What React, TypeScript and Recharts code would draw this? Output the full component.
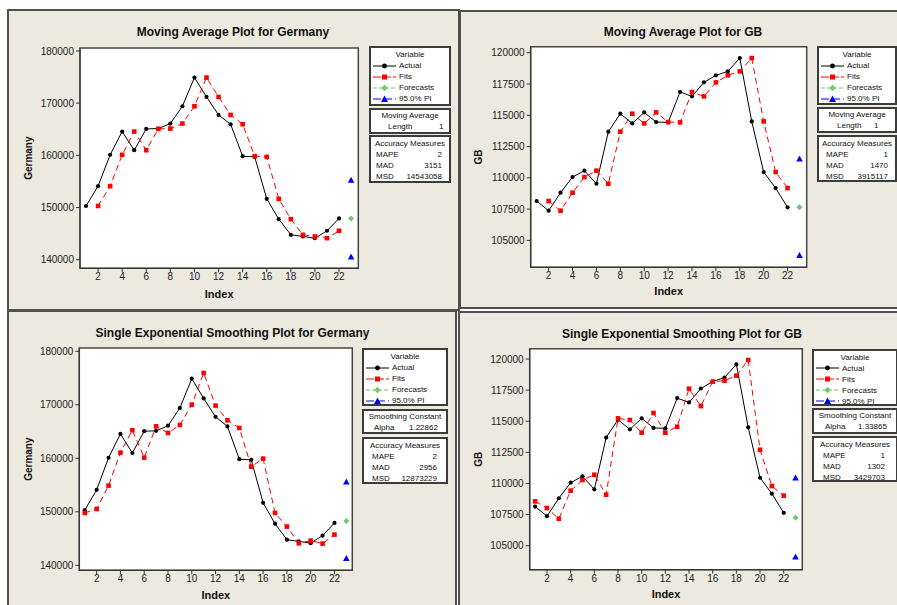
import React from 'react';
import { LineChart, Line, XAxis, YAxis, CartesianGrid, ReferenceArea } from 'recharts';

// Time index (22 observations + 1 forecast period)
const indexes = [1, 2, 3, 4, 5, 6, 7, 8, 9, 10, 11, 12, 13, 14, 15, 16, 17, 18, 19, 20, 21, 22, 23];
const xTicks = [2, 4, 6, 8, 10, 12, 14, 16, 18, 20, 22];
const germanyTicks = [140000, 150000, 160000, 170000, 180000];
const gbTicks = [105000, 107500, 110000, 112500, 115000, 117500, 120000];

// Germany
const germanyActual = [150300, 154100, 160100, 164560, 160990, 165070, 165130, 166090, 169410, 174900, 171200,
    167750, 165960, 159840, 159710, 151670, 147780, 144780, 144460, 144140, 145550, 147910];
const germanyMaFits = [null, 150300, 154100, 160100, 164560, 160990, 165070, 165130, 166090, 169410, 174900,
    171200, 167750, 165960, 159840, 159710, 151670, 147780, 144780, 144460, 144140, 145550];
const germanySesFits = [149780, 150530, 154890, 161060, 165235, 160130, 165980, 164740, 166230, 170030, 175950,
    169850, 167100, 165670, 158440, 159940, 149780, 147230, 144115, 144610, 144050, 145735];
const germanyMaForecast = [147910, 140510, 155250]; // forecast, lower, upper
const germanySesForecast = [148290, 141250, 155580];

// GB
const gbActual = [108145, 107373, 108811, 110063, 110570, 109530, 113690, 115125, 114350, 115230, 114460,
    114430, 116860, 116510, 117630, 118190, 118510, 119570, 114510, 110460, 109180, 107640];
const gbMaFits = [null, 108145, 107373, 108811, 110063, 110570, 109530, 113690, 115125, 114350, 115230,
    114460, 114430, 116860, 116510, 117630, 118190, 118510, 119570, 114510, 110460, 109180];
const gbSesFits = [108560, 108025, 107170, 109420, 110275, 110700, 109100, 115230, 115100, 114080, 115660,
    114080, 114560, 117615, 116220, 118180, 118260, 118660, 119920, 112710, 109790, 109020];
const gbMaForecast = [107640, 103800, 111500];
const gbSesForecast = [107250, 104090, 110440];

const FONT = '"Liberation Sans", Arial, sans-serif';
const PANEL_BG = '#ECE9DF';

const buildRows = (actual: number[], fits: (number | null)[], fc: number[]) =>
    indexes.map((idx, i) => ({
        idx,
        actual: actual[i] ?? null,
        fits: fits[i] ?? null,
        forecast: idx === 23 ? fc[0] : null,
        lower: idx === 23 ? fc[1] : null,
        upper: idx === 23 ? fc[2] : null,
    }));

// ---- marker shapes ----
const empty = (p: any) => p.cx == null || p.cy == null || p.value == null;

const circleDot = (p: any) =>
    empty(p) ? <g key={`c-${p.index}`} /> : <circle key={`c-${p.index}`} cx={p.cx} cy={p.cy} r={2.1} fill="#000" />;

const squareDot = (p: any) =>
    empty(p) ? <g key={`s-${p.index}`} /> : (
        <rect key={`s-${p.index}`} x={p.cx - 2.3} y={p.cy - 2.3} width={4.6} height={4.6} fill="#FF0000" />
    );

const diamondDot = (p: any) =>
    empty(p) ? <g key={`d-${p.index}`} /> : (
        <polygon key={`d-${p.index}`} fill="#6CCB6C"
            points={`${p.cx},${p.cy - 3} ${p.cx + 3},${p.cy} ${p.cx},${p.cy + 3} ${p.cx - 3},${p.cy}`} />
    );

const triangleDot = (p: any) =>
    empty(p) ? <g key={`t-${p.index}`} /> : (
        <polygon key={`t-${p.index}`} fill="#0000FF"
            points={`${p.cx},${p.cy - 3.5} ${p.cx + 3.3},${p.cy + 2.5} ${p.cx - 3.3},${p.cy + 2.5}`} />
    );

// ---- legend sample symbols ----
const Sample = ({ kind }: { kind: string }) => {
    const w = 23;
    const s: React.CSSProperties = { display: 'block' };
    if (kind === 'actual') return (
        <svg style={s} width={w} height={8}><line x1={0} y1={4} x2={w} y2={4} stroke="#000" /><circle cx={11.5} cy={4} r={2.4} fill="#000" /></svg>
    );
    if (kind === 'fits') return (
        <svg style={s} width={w} height={8}><line x1={0} y1={4} x2={w} y2={4} stroke="#FF0000" strokeDasharray="8 2" /><rect x={9} y={1.5} width={5} height={5} fill="#FF0000" /></svg>
    );
    if (kind === 'forecast') return (
        <svg style={s} width={w} height={8}><line x1={0} y1={4} x2={w} y2={4} stroke="#6CCB6C" strokeDasharray="4 2" /><polygon points="11.5,0.8 14.7,4 11.5,7.2 8.3,4" fill="#6CCB6C" /></svg>
    );
    return (
        <svg style={s} width={w} height={8}><line x1={0} y1={4} x2={w} y2={4} stroke="#0000FF" strokeDasharray="8 3" /><polygon points="11.5,0.5 15,7 8,7" fill="#0000FF" /></svg>
    );
};

const boxStyle = (x: number, y: number, w: number, h: number): React.CSSProperties => ({
    position: 'absolute', left: x, top: y, width: w, height: h, boxSizing: 'border-box',
    border: '2px solid #3C3C3C', background: '#FFFFFF', fontSize: 8, color: '#111',
});

const Line1 = ({ y, children, style }: { y: number; children: React.ReactNode; style?: React.CSSProperties }) => (
    <div style={{ position: 'absolute', top: y - 5.5, height: 11, lineHeight: '11px', whiteSpace: 'pre', ...style }}>{children}</div>
);

interface PanelProps {
    title: string; titleX: number; titleY: number;
    left: number; top: number; width: number; height: number;
    plot: [number, number, number, number];
    xDomain: [number, number]; yDomain: [number, number]; yTicks: number[];
    yLabel: string; yLabelOffset: number; xLabelOffset: number;
    rows: any[];
    legendX: number; legendW: number; boxes: [number, number][];
    paramTitle: string; paramLabel: string; paramValue: string; paramLabelX: number; paramValueX: number;
    measures: [string, string][]; measLeft: number; measRight: number;
}

const Panel = (p: PanelProps) => {
    const [x0, y0, x1, y1] = p.plot;
    const yAxisW = x0 - p.left;
    const xAxisH = p.top + p.height - y1;
    const [b1, b2, b3] = p.boxes;
    return (
        <>
            <div style={{ position: 'absolute', left: p.left, top: p.top, width: p.width, height: p.height }}>
                <LineChart width={p.width} height={p.height} data={p.rows}
                    margin={{ top: y0 - p.top, right: p.left + p.width - x1, left: 0, bottom: 0 }}>
                    <CartesianGrid fill="#FFFFFF" stroke="none" horizontal={false} vertical={false} />
                    <XAxis type="number" dataKey="idx" domain={p.xDomain} ticks={xTicks} interval={0}
                        allowDataOverflow height={xAxisH} tickSize={4} tickMargin={1}
                        tick={{ fontSize: 10, fill: '#222', fontFamily: FONT }}
                        axisLine={{ stroke: '#333' }} tickLine={{ stroke: '#333' }}
                        label={{ value: 'Index', position: 'insideBottom', offset: p.xLabelOffset,
                            style: { fontSize: 11, fontWeight: 'bold', fill: '#111', fontFamily: FONT } }} />
                    <YAxis type="number" domain={p.yDomain} ticks={p.yTicks} interval={0}
                        allowDataOverflow width={yAxisW} tickSize={4} tickMargin={2}
                        tick={{ fontSize: 10, fill: '#222', fontFamily: FONT }}
                        axisLine={{ stroke: '#333' }} tickLine={{ stroke: '#333' }}
                        label={{ value: p.yLabel, angle: -90, position: 'insideLeft', offset: p.yLabelOffset,
                            style: { fontSize: 10, fontWeight: 'bold', fill: '#111', textAnchor: 'middle', fontFamily: FONT } }} />
                    <ReferenceArea x1={p.xDomain[0]} x2={p.xDomain[1]} y1={p.yDomain[0]} y2={p.yDomain[1]}
                        fill="none" stroke="#444" strokeWidth={1.5} fillOpacity={0} />
                    <Line dataKey="actual" stroke="#000" strokeWidth={1} dot={circleDot} activeDot={false}
                        isAnimationActive={false} />
                    <Line dataKey="fits" stroke="#FF0000" strokeWidth={1} strokeDasharray="6 4" dot={squareDot}
                        activeDot={false} isAnimationActive={false} />
                    <Line dataKey="forecast" stroke="none" dot={diamondDot} activeDot={false} isAnimationActive={false} />
                    <Line dataKey="upper" stroke="none" dot={triangleDot} activeDot={false} isAnimationActive={false} />
                    <Line dataKey="lower" stroke="none" dot={triangleDot} activeDot={false} isAnimationActive={false} />
                </LineChart>
            </div>
            <div style={{ position: 'absolute', left: p.titleX - 200, width: 400, top: p.titleY - 8, lineHeight: '16px',
                textAlign: 'center', fontWeight: 'bold', fontSize: 12, color: '#111' }}>{p.title}</div>

            <div style={boxStyle(p.legendX, b1[0], p.legendW, b1[1])}>
                <Line1 y={6.5} style={{ left: 0, right: 0, textAlign: 'center' }}>Variable</Line1>
                {[['actual', 'Actual'], ['fits', 'Fits'], ['forecast', 'Forecasts'], ['pi', '95.0% PI']].map(([k, t], i) => (
                    <React.Fragment key={k}>
                        <div style={{ position: 'absolute', left: 2, top: 17.5 + i * 11 - 4, height: 8 }}><Sample kind={k} /></div>
                        <Line1 y={17.5 + i * 11} style={{ left: 28 }}>{t}</Line1>
                    </React.Fragment>
                ))}
            </div>
            <div style={boxStyle(p.legendX, b2[0], p.legendW, b2[1])}>
                <Line1 y={5.5} style={{ left: 0, right: 0, textAlign: 'center' }}>{p.paramTitle}</Line1>
                <Line1 y={16.5} style={{ left: p.paramLabelX }}>{p.paramLabel}</Line1>
                <Line1 y={16.5} style={{ left: p.paramValueX }}>{p.paramValue}</Line1>
            </div>
            <div style={boxStyle(p.legendX, b3[0], p.legendW, b3[1])}>
                <Line1 y={6} style={{ left: 0, right: 0, textAlign: 'center' }}>Accuracy Measures</Line1>
                {p.measures.map(([k, v], i) => (
                    <React.Fragment key={k}>
                        <Line1 y={17 + i * 11} style={{ left: p.measLeft }}>{k}</Line1>
                        <Line1 y={17 + i * 11} style={{ right: p.measRight, textAlign: 'right' }}>{v}</Line1>
                    </React.Fragment>
                ))}
            </div>
        </>
    );
};

const frame = (x: number, y: number, w: number, h: number): React.CSSProperties => ({
    position: 'absolute', left: x, top: y, width: w, height: h, boxSizing: 'border-box',
    border: '2px solid #505050', background: PANEL_BG,
});

export default function App() {
    return (
        <div style={{ position: 'absolute', left: 0, top: 0, width: 897, height: 605, overflow: 'hidden',
            background: '#FFFFFF', fontFamily: FONT }}>
            <div style={frame(7, 9, 453, 302)} />
            <div style={frame(459, 10, 445, 299)} />
            <div style={frame(7, 310, 450, 310)} />
            <div style={frame(458, 311, 450, 310)} />

            <Panel title="Moving Average Plot for Germany" titleX={233} titleY={32}
                left={9} top={11} width={449} height={298} plot={[80, 48, 358.3, 268.3]}
                xDomain={[0.5, 23.6]} yDomain={[138360, 180570]} yTicks={germanyTicks}
                yLabel="Germany" yLabelOffset={19} xLabelOffset={11}
                rows={buildRows(germanyActual, germanyMaFits, germanyMaForecast)}
                legendX={369} legendW={82} boxes={[[46, 60], [108, 26], [135, 48]]}
                paramTitle="Moving Average" paramLabel="Length" paramValue="1" paramLabelX={17} paramValueX={68}
                measures={[['MAPE', '2'], ['MAD', '3151'], ['MSD', '14543058']]} measLeft={5} measRight={7} />

            <Panel title="Moving Average Plot for GB" titleX={683} titleY={32}
                left={461} top={12} width={436} height={295} plot={[530.7, 46.7, 806.7, 267.3]}
                xDomain={[0.5, 23.6]} yDomain={[102850, 120480]} yTicks={gbTicks}
                yLabel="GB" yLabelOffset={17} xLabelOffset={12}
                rows={buildRows(gbActual, gbMaFits, gbMaForecast)}
                legendX={817} legendW={80} boxes={[[46, 59], [106.5, 26], [135, 47]]}
                paramTitle="Moving Average" paramLabel="Length" paramValue="1" paramLabelX={18} paramValueX={55}
                measures={[['MAPE', '1'], ['MAD', '1470'], ['MSD', '3915117']]} measLeft={7} measRight={7} />

            <Panel title="Single Exponential Smoothing Plot for Germany" titleX={232.5} titleY={333}
                left={9} top={312} width={446} height={293} plot={[79.3, 348, 352.3, 570.3]}
                xDomain={[0.54, 23.5]} yDomain={[139060, 180620]} yTicks={germanyTicks}
                yLabel="Germany" yLabelOffset={19} xLabelOffset={6}
                rows={buildRows(germanyActual, germanySesFits, germanySesForecast)}
                legendX={362} legendW={86} boxes={[[348, 58], [409, 25], [437, 47]]}
                paramTitle="Smoothing Constant" paramLabel="Alpha" paramValue="1.22862" paramLabelX={10} paramValueX={45}
                measures={[['MAPE', '2'], ['MAD', '2956'], ['MSD', '12873229']]} measLeft={8} measRight={9} />

            <Panel title="Single Exponential Smoothing Plot for GB" titleX={682} titleY={334}
                left={460} top={313} width={437} height={292} plot={[529.7, 348.7, 802.3, 569.7]}
                xDomain={[0.54, 23.57]} yDomain={[103070, 120830]} yTicks={gbTicks}
                yLabel="GB" yLabelOffset={18} xLabelOffset={7}
                rows={buildRows(gbActual, gbSesFits, gbSesForecast)}
                legendX={812} legendW={86} boxes={[[348.7, 57], [408, 26], [436.3, 46]]}
                paramTitle="Smoothing Constant" paramLabel="Alpha" paramValue="1.33865" paramLabelX={11} paramValueX={44}
                measures={[['MAPE', '1'], ['MAD', '1302'], ['MSD', '3429703']]} measLeft={9} measRight={11} />
        </div>
    );
}
